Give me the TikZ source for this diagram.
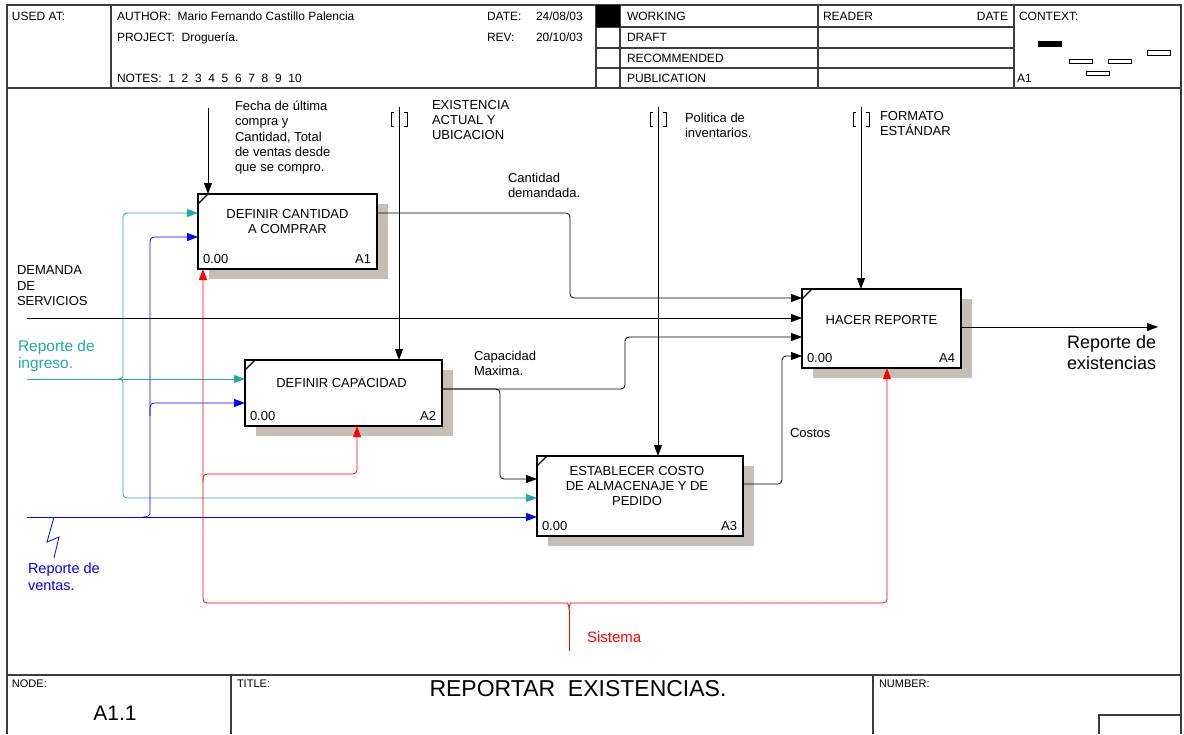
\documentclass[tikz,border=0pt]{standalone}
\usepackage{fontspec}
\setmainfont{Liberation Sans}
\usetikzlibrary{arrows.meta,calc}
\definecolor{tealc}{RGB}{38,168,168}
\definecolor{bluec}{RGB}{0,0,255}
\definecolor{redc}{RGB}{255,0,0}
\definecolor{shadowc}{RGB}{196,192,184}
\definecolor{framec}{RGB}{60,60,60}
\newcommand\fz[2]{\fontsize{#1}{#2}\selectfont}
% IDEF0 tunnel brackets around the top end of a control arrow
\newcommand\tunnelmark[1]{%
  \draw[tunnel] ($(#1)+(-5,5)$) -- ($(#1)+(-8,5)$) -- ($(#1)+(-8,19)$) -- ($(#1)+(-5,19)$);
  \draw[tunnel] ($(#1)+(5,5)$) -- ($(#1)+(8,5)$) -- ($(#1)+(8,19)$) -- ($(#1)+(5,19)$);}
\begin{document}
\begin{tikzpicture}[x=1pt,y=-1pt,
  every node/.style={inner sep=0pt,outer sep=0pt},
  frameline/.style={draw=framec,line width=1.1pt},
  hdr/.style={anchor=base west,font=\fz{12}{14}},
  lbl/.style={anchor=north west,align=left,font=\fz{13}{15.3}},
  actbox/.style={draw,line width=1.8pt,fill=white,anchor=north west},
  shadowbox/.style={fill=shadowc,anchor=north west},
  boxtitle/.style={align=center,font=\fz{13}{15}},
  boxnum/.style={font=\fz{13}{15}},
  flow/.style={line width=0.8pt,rounded corners=4pt},
  tealflow/.style={flow,draw=tealc},
  blueflow/.style={flow,draw=bluec},
  redflow/.style={flow,draw=redc},
  tip/.style={-{Triangle[length=11pt,width=8pt]}},
  tunnel/.style={line width=0.8pt},
  corner/.style={line width=1.3pt},
]
\useasboundingbox (0,0) rectangle (1184,734);
\fill[white] (0,0) rectangle (1184,734);

% ---------- outer frame and header ----------
\draw[frameline] (7,734) -- (7,5) -- (1181,5) -- (1181,734);
\draw[frameline] (7,88) -- (1181,88);
\draw[frameline] (111,5) -- (111,88);
\draw[frameline] (596,5) -- (596,88);
\draw[frameline] (620,5) -- (620,88);
\draw[frameline] (818,5) -- (818,88);
\draw[frameline] (1014,5) -- (1014,88);
\foreach \yy in {27,48,68} \draw[frameline] (596,\yy) -- (1014,\yy);
\fill[black] (596,5) rectangle (620,27);

\node[hdr] (usedat) at (12,20) {USED AT:};
\node[hdr] (author) at (117,20) {AUTHOR:\ \ Mario Fernando Castillo Palencia};
\node[hdr] (project) at (117,41) {PROJECT:\ \ Droguería.};
\node[hdr] (notes) at (117,82) {NOTES:\ \ 1\ \ 2\ \ 3\ \ 4\ \ 5\ \ 6\ \ 7\ \ 8\ \ 9\ \ 10};
\node[hdr] (datek) at (487,20) {DATE:};
\node[hdr] (datev) at (536,20) {24/08/03};
\node[hdr] (revk) at (487,41) {REV:};
\node[hdr] (revv) at (536,41) {20/10/03};
\node[hdr] (working) at (627,20) {WORKING};
\node[hdr] (draft) at (627,41) {DRAFT};
\node[hdr] (recommended) at (627,62) {RECOMMENDED};
\node[hdr] (publication) at (627,82) {PUBLICATION};
\node[hdr] (reader) at (823,20) {READER};
\node[hdr,anchor=base east] (rdate) at (1008,20) {DATE};
\node[hdr] (context) at (1019,20) {CONTEXT:};
\node[hdr] (ctxnode) at (1017,82) {A1};
% context thumbnail
\fill[black] (1038,41) rectangle (1062,47);
\draw[line width=0.8pt] (1069,59) rectangle (1092,63);
\draw[line width=0.8pt] (1108,59) rectangle (1131,63);
\draw[line width=0.8pt] (1147,50) rectangle (1170,55);
\draw[line width=0.8pt] (1086,71) rectangle (1109,75);

% ---------- footer ----------
\draw[frameline] (7,675) -- (1181,675);
\draw[frameline] (231,675) -- (231,734);
\draw[frameline] (873,675) -- (873,734);
\draw[frameline] (1181,715) -- (1099,715) -- (1099,734);
\node[anchor=base west,font=\fz{11}{13}] (nodek) at (12,687) {NODE:};
\node[anchor=base west,font=\fz{11}{13}] (titlek) at (237,687) {TITLE:};
\node[anchor=base west,font=\fz{11}{13}] (numberk) at (879,687) {NUMBER:};
\node[anchor=base,font=\fz{21}{24}] (nodev) at (115,720.5) {A1.1};
\node[anchor=base,font=\fz{23}{26}] (titlev) at (578,696) {REPORTAR\ \ EXISTENCIAS.};

% ---------- activity boxes ----------
\node[shadowbox,minimum width=179pt,minimum height=75pt] (A1s) at (209,204) {};
\node[actbox,minimum width=179pt,minimum height=75pt] (A1) at (198,194) {};
\node[shadowbox,minimum width=197pt,minimum height=66pt] (A2s) at (256,370) {};
\node[actbox,minimum width=197pt,minimum height=66pt] (A2) at (245,360) {};
\node[shadowbox,minimum width=206pt,minimum height=80pt] (A3s) at (548,466) {};
\node[actbox,minimum width=206pt,minimum height=80pt] (A3) at (537,456) {};
\node[shadowbox,minimum width=159pt,minimum height=79pt] (A4s) at (813,299) {};
\node[actbox,minimum width=159pt,minimum height=79pt] (A4) at (802,289) {};

\foreach \b in {A1,A2,A3,A4}
  \draw[corner] ([yshift=-10pt]\b.north west) -- ([xshift=10pt]\b.north west);

\node[boxtitle] (A1t) at ([yshift=-27.5pt]A1.north) {DEFINIR CANTIDAD\\A COMPRAR};
\node[boxtitle] (A2t) at ([xshift=-2pt,yshift=-23pt]A2.north) {DEFINIR CAPACIDAD};
\node[boxtitle] (A3t) at ([xshift=-3pt,yshift=-30pt]A3.north) {ESTABLECER COSTO\\DE ALMACENAJE Y DE\\PEDIDO};
\node[boxtitle] (A4t) at ([yshift=-31pt]A4.north) {HACER REPORTE};
\foreach \b/\n in {A1/A1,A2/A2,A3/A3,A4/A4}{
  \node[boxnum,anchor=base west] (\b num) at ([xshift=5pt,yshift=5.5pt]\b.south west) {0.00};
  \node[boxnum,anchor=base east] (\b id) at ([xshift=-6pt,yshift=5.5pt]\b.south east) {\n};
}

% ---------- ports ----------
\coordinate (A1in1) at ([yshift=-19pt]A1.north west);
\coordinate (A1in2) at ([yshift=-43pt]A1.north west);
\coordinate (A1out) at ([yshift=-19pt]A1.north east);
\coordinate (A1mech) at ([xshift=5pt]A1.south west);
\coordinate (A2in1) at ([yshift=-19pt]A2.north west);
\coordinate (A2in2) at ([yshift=-43pt]A2.north west);
\coordinate (A2out) at ([yshift=-29pt]A2.north east);
\coordinate (A2mech) at ([xshift=112pt]A2.south west);
\coordinate (A3in1) at ([yshift=-23pt]A3.north west);
\coordinate (A3in2) at ([yshift=-42pt]A3.north west);
\coordinate (A3in3) at ([yshift=-61pt]A3.north west);
\coordinate (A3out) at ([yshift=-28pt]A3.north east);
\coordinate (A4in1) at ([yshift=-9pt]A4.north west);
\coordinate (A4in2) at ([yshift=-29pt]A4.north west);
\coordinate (A4in3) at ([yshift=-48pt]A4.north west);
\coordinate (A4in4) at ([yshift=-67pt]A4.north west);
\coordinate (A4out) at ([yshift=-38pt]A4.north east);
\coordinate (A4mech) at ([xshift=85pt]A4.south west);

% ---------- controls ----------
\coordinate (ctlF) at (208,108);
\coordinate (ctlE) at (399,107);
\coordinate (ctlP) at (658,107);
\coordinate (ctlFo) at (861,107);
\draw[flow,tip] (ctlF) -- (ctlF |- A1.north);
\draw[flow,tip] (ctlE) -- (ctlE |- A2.north);
\draw[flow,tip] (ctlP) -- (ctlP |- A3.north);
\draw[flow,tip] (ctlFo) -- (ctlFo |- A4.north);
\tunnelmark{ctlE}
\tunnelmark{ctlP}
\tunnelmark{ctlFo}

\node[lbl] (lblF) at (235,101) {Fecha de última\\compra y\\Cantidad, Total\\de ventas desde\\que se compro.};
\node[lbl] (lblE) at (432,100) {EXISTENCIA\\ACTUAL Y\\UBICACION};
\node[lbl] (lblP) at (685,113) {Politica de\\inventarios.};
\node[lbl] (lblFo) at (880,111) {FORMATO\\ESTÁNDAR};

% ---------- internal flows ----------
\draw[flow,tip] (A1out) -- ++(193,0) |- (A4in1);
\draw[flow,tip] (A2out) -- ++(183,0) |- (A4in3);
\draw[flow,tip] (A2out) -- ++(58,0) |- (A3in1);
\draw[flow,tip] (A3out) -- ++(39,0) |- (A4in4);
\node[lbl] (lblC) at (508,173) {Cantidad\\demandada.};
\node[lbl] (lblCap) at (474,351) {Capacidad\\Maxima.};
\node[lbl] (lblCo) at (790,428) {Costos};

% ---------- external inputs ----------
\coordinate (dem) at (27,318);
\draw[flow,tip] (dem) -- (A4in2);
\node[lbl] (lblD) at (17,266) {DEMANDA\\DE\\SERVICIOS};

\coordinate (ing) at (27,379);
\coordinate (ingb) at (118,379);
\draw[tealflow,tip] (ing) -- (A2in1);
\draw[tealflow,tip] (ingb) .. controls (123,379) and (123,376) .. (123,372) |- (A1in1);
\draw[tealflow,tip] (ingb) .. controls (123,379) and (123,382) .. (123,386) |- (A3in2);
\node[lbl,text=tealc,font=\fz{15.5}{17}] (lblIng) at (18,340) {Reporte de\\ingreso.};

\coordinate (ven) at (27,517);
\coordinate (venb) at (143,517);
\draw[blueflow,tip] (ven) -- (A3in3);
\draw[blueflow,tip] (venb) .. controls (148,517) and (150,515) .. (150,510) |- (A1in2);
\draw[blueflow,tip] (150,416) |- (A2in2);
\draw[line width=0.8pt,draw=bluec] (54,517) -- (47,542) -- (59,537) -- (54,558);
\node[lbl,text=bluec,font=\fz{14.5}{17}] (lblVen) at (28,562.5) {Reporte de\\ventas.};

% ---------- mechanism ----------
\coordinate (sis) at (569,651);
\coordinate (sisb) at (569,609);
\draw[redflow] (sis) -- (sisb);
\draw[redflow,tip] (sisb) .. controls (569,604) and (567,603) .. (563,603) -| (A1mech);
\draw[redflow,tip] (sisb) .. controls (569,604) and (571,603) .. (575,603) -| (A4mech);
\draw[redflow,tip] (203,482) |- (357,474) -- (A2mech);
\node[lbl,text=redc,font=\fz{15}{17}] (lblSis) at (587,631.5) {Sistema};

% ---------- output ----------
\coordinate (outend) at (1158,327);
\draw[flow,tip] (A4out) -- (outend);
\node[lbl,font=\fz{18}{21}] (lblOut) at (1067,335.5) {Reporte de\\existencias};
\end{tikzpicture}
\end{document}
